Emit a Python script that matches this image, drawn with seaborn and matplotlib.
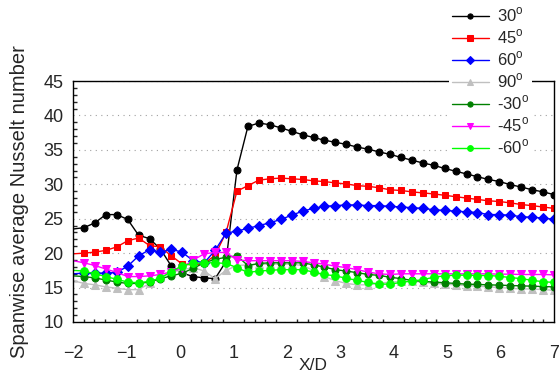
import numpy as np
import pandas as pd
import matplotlib
matplotlib.use("Agg")
import matplotlib.pyplot as plt
import seaborn as sns
from matplotlib.ticker import MultipleLocator

sns.set_style("white")
plt.rcParams['font.family'] = ['Liberation Sans', 'DejaVu Sans']
plt.rcParams['mathtext.fontset'] = 'custom'
plt.rcParams['mathtext.rm'] = 'Liberation Sans'

# X/D stations (45 evenly spaced stations between -2 and 7)
x_d = np.linspace(-2, 7, 45)

nu_30 = [23.5, 23.7, 24.4, 25.6, 25.6, 24.9, 22.6, 22.1, 20.6, 18.1, 17.1, 16.6, 16.4, 16.3, 18.8,
         32.1, 38.4, 38.9, 38.65, 38.2, 37.7, 37.2, 36.8, 36.4, 36.1, 35.8, 35.4, 35.1, 34.7, 34.35,
         33.9, 33.5, 33.1, 32.75, 32.3, 31.9, 31.5, 31.1, 30.7, 30.4, 29.95, 29.6, 29.2, 28.9, 28.5]
nu_45 = [19.9, 20.0, 20.15, 20.4, 20.9, 21.8, 22.2, 21.1, 20.9, 19.6, 18.4, 18.3, 18.5, 19.7, 23.0,
         29.0, 29.8, 30.6, 30.8, 30.9, 30.8, 30.7, 30.5, 30.4, 30.2, 30.05, 29.8, 29.7, 29.5, 29.2,
         29.1, 28.9, 28.75, 28.6, 28.4, 28.2, 28.0, 27.8, 27.6, 27.5, 27.3, 27.06, 26.9, 26.7, 26.5]
nu_60 = [17.0, 17.1, 17.1, 17.1, 17.2, 18.1, 19.6, 20.5, 20.1, 20.6, 20.1, 18.9, 18.6, 20.4, 22.9,
         23.2, 23.6, 24.0, 24.4, 24.9, 25.5, 26.1, 26.5, 26.8, 26.9, 27.0, 27.0, 26.9, 26.9, 26.8,
         26.7, 26.6, 26.5, 26.3, 26.2, 26.1, 26.0, 25.9, 25.6, 25.6, 25.5, 25.3, 25.2, 25.1, 24.9]
nu_90 = [16.0, 15.6, 15.4, 15.1, 14.9, 14.7, 14.7, 15.6, 16.5, 17.2, 17.6, 17.9, 17.4, 16.3, 17.5,
         18.2, 18.3, 18.4, 18.4, 18.4, 18.4, 18.2, 17.5, 16.6, 16.0, 15.6, 15.4, 15.4, 15.6, 15.8,
         15.9, 15.9, 15.8, 15.6, 15.5, 15.4, 15.3, 15.2, 15.1, 15.0, 14.9, 14.8, 14.8, 14.7, 14.6]
nu_m30 = [16.7, 16.6, 16.4, 16.1, 15.8, 15.6, 15.6, 15.8, 16.3, 16.7, 17.1, 17.8, 18.6, 19.1, 19.4,
          19.6, 18.2, 18.5, 18.6, 18.6, 18.6, 18.6, 18.3, 17.97, 17.6, 17.4, 17.16, 16.9, 16.77, 16.5,
          16.3, 16.04, 15.9, 15.8, 15.7, 15.6, 15.5, 15.45, 15.4, 15.35, 15.3, 15.25, 15.2, 15.15, 15.1]
nu_m45 = [18.9, 18.6, 18.2, 17.7, 17.2, 16.6, 16.6, 16.7, 16.9, 17.3, 17.9, 19.0, 19.9, 20.1, 20.1,
          19.0, 18.9, 18.9, 18.9, 18.9, 18.9, 18.8, 18.6, 18.4, 18.1, 17.9, 17.6, 17.25, 17.0, 16.9,
          17.0, 17.0, 17.0, 17.0, 17.0, 17.0, 17.0, 17.0, 17.0, 16.95, 16.95, 16.9, 16.9, 16.9, 16.85]
nu_m60 = [17.5, 17.4, 17.0, 16.6, 16.2, 15.8, 15.7, 15.9, 16.4, 17.3, 18.2, 18.5, 18.6, 18.6, 18.5,
          17.9, 17.2, 17.4, 17.5, 17.6, 17.6, 17.6, 17.25, 16.9, 16.7, 16.35, 16.05, 15.75, 15.5, 15.5,
          15.75, 15.95, 16.15, 16.5, 16.7, 16.8, 16.8, 16.75, 16.75, 16.65, 16.45, 16.3, 16.05, 15.85, 15.75]

labels = [r'30$^{\mathrm{o}}$', r'45$^{\mathrm{o}}$', r'60$^{\mathrm{o}}$', r'90$^{\mathrm{o}}$',
          r'-30$^{\mathrm{o}}$', r'-45$^{\mathrm{o}}$', r'-60$^{\mathrm{o}}$']
series = [nu_30, nu_45, nu_60, nu_90, nu_m30, nu_m45, nu_m60]
colors = ['black', '#ff0000', '#0000ff', '#c0c0c0', '#008000', '#ff00ff', '#00ff00']
markers = ['o', 's', 'D', '^', 'o', 'v', 'o']
msizes = [5, 5, 5, 5.5, 5, 5.5, 5.5]

fig = plt.figure(figsize=(5.59, 3.78), dpi=100)
ax = fig.add_axes([73/559, 1-322/378, (554-73)/559, (322-81)/378])

for vals, lab, c, m, ms in zip(series, labels, colors, markers, msizes):
    df = pd.DataFrame({'X/D': x_d, 'Nu': vals})
    sns.lineplot(data=df, x='X/D', y='Nu', ax=ax, color=c, marker=m, markersize=ms,
                 markeredgecolor=c, markerfacecolor=c, linewidth=1.0,
                 markevery=slice(1, None), label=lab, sort=False)

ax.set_xlim(-2, 7)
ax.set_ylim(10, 45)
ax.xaxis.set_major_locator(MultipleLocator(1))
ax.xaxis.set_minor_locator(MultipleLocator(0.2))
ax.yaxis.set_major_locator(MultipleLocator(5))
ax.yaxis.set_minor_locator(MultipleLocator(1))
ax.yaxis.grid(True, which='major', linestyle=(0, (1, 4)), color='#a0a0a0', linewidth=0.8)
ax.xaxis.grid(False)
for s in ax.spines.values():
    s.set_color('black')
    s.set_linewidth(1.0)
ax.tick_params(axis='y', which='major', direction='inout', length=7, width=1, labelsize=13, pad=3.5)
ax.tick_params(axis='y', which='minor', direction='in', length=3, width=1, left=True)
ax.tick_params(axis='x', which='major', direction='inout', length=7, width=1, labelsize=13, pad=13)
ax.tick_params(axis='x', which='minor', direction='in', length=2, width=1, bottom=True)
ax.set_xlabel('X/D', fontsize=12.5)
ax.set_ylabel('Spanwise average Nusselt number', fontsize=14.5)
ax.xaxis.set_label_coords(0.5, -0.151)
ax.yaxis.set_label_coords(-0.092, 0.5)

leg = ax.legend(loc='upper left', bbox_to_anchor=(441/559, 1.0 + 5/378), bbox_transform=fig.transFigure,
                frameon=True, fontsize=12, handlelength=2.2, handletextpad=0.5, labelspacing=0.2,
                borderpad=0.15, markerscale=0.75)
leg.get_frame().set_facecolor('white')
leg.get_frame().set_edgecolor('none')
leg.get_frame().set_alpha(1)
leg.set_zorder(10)

fig.savefig('out.png', dpi=100)
